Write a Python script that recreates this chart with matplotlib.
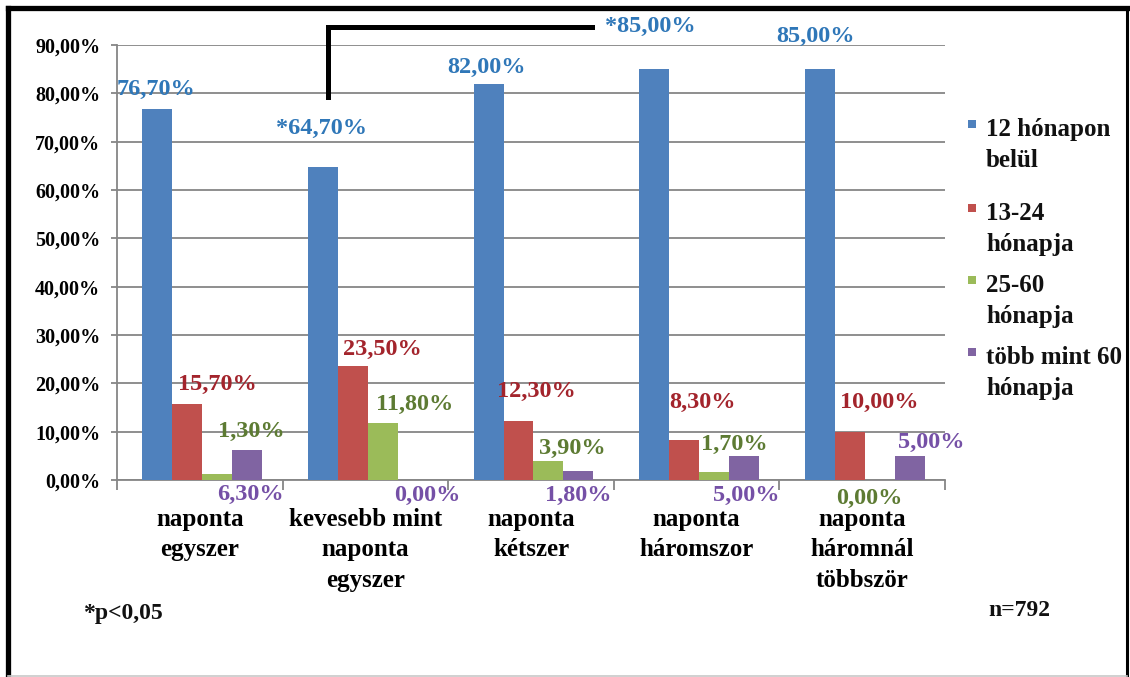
import matplotlib
matplotlib.use("Agg")
import matplotlib.pyplot as plt
from matplotlib.lines import Line2D
from matplotlib.patches import Rectangle
import numpy as np

# Frequency groups (x axis)
categories = [
    "naponta\negyszer",
    "kevesebb mint\nnaponta\negyszer",
    "naponta\nkétszer",
    "naponta\nháromszor",
    "naponta\nháromnál\ntöbbször",
]

# Series names (legend)
series_names = [
    "12 hónapon\nbelül",
    "13-24\nhónapja",
    "25-60\nhónapja",
    "több mint 60\nhónapja",
]

# Percentages per series, one value per frequency group
within_12 = [76.7, 64.7, 82.0, 85.0, 85.0]
months_13_24 = [15.7, 23.5, 12.3, 8.3, 10.0]
months_25_60 = [1.3, 11.8, 3.9, 1.7, 0.0]
over_60 = [6.3, 0.0, 1.8, 5.0, 5.0]

# Values marked as significant (*)
significant_12 = [False, True, False, True, False]

y_ticks = [0, 10, 20, 30, 40, 50, 60, 70, 80, 90]
n_note = "n=792"
p_note = "*p<0,05"

series_values = [within_12, months_13_24, months_25_60, over_60]
bar_colors = ["#4f81bd", "#c0504d", "#9bbb59", "#8064a2"]
label_colors = ["#2f77b8", "#a3242c", "#5d7b33", "#7550a6"]

# Label offsets in pixels (dx right, dy up) from each bar's top centre
label_offsets = [
    [(-1, 20), (-1, 39), (-2, 16), (-4, 43), (-4, 33)],
    [(30, 20), (29, 17), (18, 29), (18, 37), (30, 29)],
    [(34, 42), (32, 19), (24, 13), (20, 27), (-10, -18)],
    [(3, -45), (14, -15), (0, -24), (2, -40), (22, 13)],
]

W, H = 1130, 677
DPI = 100
# Times-metric serif face for all text
plt.rcParams["font.family"] = "serif"
plt.rcParams["font.serif"] = ["Liberation Serif", "DejaVu Serif"]

fig = plt.figure(figsize=(W / DPI, H / DPI), dpi=DPI)
fig.patch.set_facecolor("white")

ax_left, ax_right, ax_top, ax_bottom = 117, 945, 45, 480
ax = fig.add_axes([ax_left / W, (H - ax_bottom) / H,
                   (ax_right - ax_left) / W, (ax_bottom - ax_top) / H])

n_groups = len(categories)
x = np.arange(n_groups)
bar_w = 0.181
shift = 0.015

grid_col = "#868686"
for k, vals in enumerate(series_values):
    xs = x + (k - 1.5) * bar_w + shift
    ax.bar(xs, vals, width=bar_w, color=bar_colors[k], zorder=3, linewidth=0)
    for i, v in enumerate(vals):
        txt = f"{v:.2f}".replace(".", ",") + "%"
        if k == 0 and significant_12[i]:
            txt = "*" + txt
        dx, dy = label_offsets[k][i]
        ax.annotate(txt, xy=(xs[i], v), xytext=(dx * 0.72, dy * 0.72),
                    textcoords="offset points", ha="center", va="center",
                    fontsize=17.5, fontweight="bold", color=label_colors[k],
                    zorder=5, annotation_clip=False)

ax.set_xlim(-0.5, n_groups - 0.5)
ax.set_ylim(0, 90)
ax.set_yticks(y_ticks)
ax.set_yticklabels([f"{t:.2f}".replace(".", ",") + "%" for t in y_ticks],
                   fontsize=14.5, fontweight="bold")
ax.yaxis.grid(True, color=grid_col, linewidth=1.3, zorder=0)
ax.set_axisbelow(True)

# Category labels centred on groups; tick marks at group boundaries
ax.set_xticks(x)
ax.set_xticklabels(categories, fontsize=18, fontweight="bold",
                   linespacing=1.42, va="top")
ax.set_xticks(np.arange(n_groups + 1) - 0.5, minor=True)
ax.tick_params(axis="x", which="major", length=0, pad=20)
ax.tick_params(axis="x", which="minor", length=7, color=grid_col, width=1.3)
ax.tick_params(axis="y", length=4, color=grid_col, width=1.3, pad=8)

for side in ["top", "right"]:
    ax.spines[side].set_visible(False)
for side in ["left", "bottom"]:
    ax.spines[side].set_color(grid_col)
    ax.spines[side].set_linewidth(1.3)

# Significance bracket linking the two starred values
b_x0 = 1 - 1.5 * bar_w + shift + 0.03
b_x1 = 2.37
ax.add_line(Line2D([b_x0, b_x0, b_x1], [79.2, 93.7, 93.7], color="black",
                   linewidth=3.6, clip_on=False, zorder=6,
                   solid_joinstyle="miter"))

# Legend drawn as squares with wrapped labels
leg_y = [127, 211, 283, 355]
for k, name in enumerate(series_names):
    yc = leg_y[k]
    fig.patches.append(Rectangle((968 / W, (H - yc - 1) / H), 8 / W, 8 / H,
                                 transform=fig.transFigure,
                                 facecolor=bar_colors[k], edgecolor="none"))
    fig.text(986 / W, (H - yc + 9) / H, name, ha="left", va="top",
             fontsize=18, fontweight="bold", linespacing=1.42,
             color="#111111")

fig.text(83 / W, (H - 613) / H, p_note, ha="left", va="center",
         fontsize=17, fontweight="bold", color="#111111")
fig.text(1019 / W, (H - 611) / H, n_note, ha="center", va="center",
         fontsize=17, fontweight="bold", color="#111111")

# Outer frame
def fline(xs_, ys_, **kw):
    fig.add_artist(Line2D([v / W for v in xs_], [(H - v) / H for v in ys_],
                          transform=fig.transFigure, **kw))

fline([7.5, 7.5], [7.5, 677], color="black", linewidth=3.8)
fline([7.5, 1127], [7.5, 7.5], color="black", linewidth=3.8)
fline([1126.5, 1126.5], [7.5, 677], color="black", linewidth=2.2)
fline([7.5, 1127], [675.5, 675.5], color="#c8c8c8", linewidth=1.2)

fig.savefig("out.png", dpi=DPI, facecolor="white")
